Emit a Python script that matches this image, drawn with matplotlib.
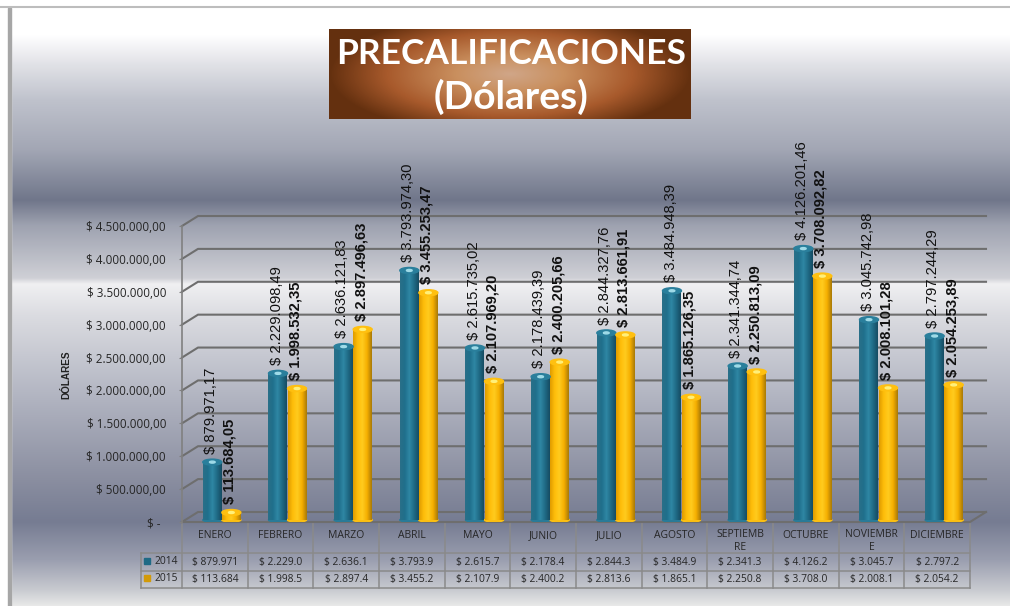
import numpy as np
import matplotlib
matplotlib.use('Agg')
import matplotlib.pyplot as plt
from matplotlib.colors import LinearSegmentedColormap, to_rgb
from matplotlib.patches import Ellipse, Rectangle
from matplotlib.ticker import FuncFormatter

meses = ['ENERO', 'FEBRERO', 'MARZO', 'ABRIL', 'MAYO', 'JUNIO', 'JULIO', 'AGOSTO',
         'SEPTIEMB\nRE', 'OCTUBRE', 'NOVIEMBR\nE', 'DICIEMBRE']
v2014 = [879971.17, 2229098.49, 2636121.83, 3793974.30, 2615735.02, 2178439.39,
         2844327.76, 3484948.39, 2341344.74, 4126201.46, 3045742.98, 2797244.29]
v2015 = [113684.05, 1998532.35, 2897496.63, 3455253.47, 2107969.20, 2400205.66,
         2813661.91, 1865126.35, 2250813.09, 3708092.82, 2008101.28, 2054253.89]
tabla2014 = ['$ 879.971', '$ 2.229.0', '$ 2.636.1', '$ 3.793.9', '$ 2.615.7', '$ 2.178.4',
             '$ 2.844.3', '$ 3.484.9', '$ 2.341.3', '$ 4.126.2', '$ 3.045.7', '$ 2.797.2']
tabla2015 = ['$ 113.684', '$ 1.998.5', '$ 2.897.4', '$ 3.455.2', '$ 2.107.9', '$ 2.400.2',
             '$ 2.813.6', '$ 1.865.1', '$ 2.250.8', '$ 3.708.0', '$ 2.008.1', '$ 2.054.2']
ticks = [0, 500000, 1000000, 1500000, 2000000, 2500000, 3000000, 3500000, 4000000, 4500000]

W, H = 1010, 606
fig = plt.figure(figsize=(W / 100, H / 100), dpi=100, facecolor='white')
font = 'Open Sans'
narrow = 'Liberation Sans'


def ramp(stops, n=606):
    pos = np.array([s[0] for s in stops], float)
    cols = np.array([to_rgb(s[1]) for s in stops])
    t = np.linspace(pos[0], pos[-1], n)
    return np.stack([np.interp(t, pos, cols[:, i]) for i in range(3)], axis=1)


def moneda(v):
    s = f'{v:,.2f}'.replace(',', '#').replace('.', ',').replace('#', '.')
    return '$ ' + s


# background, title and table live on a pixel axes behind the chart
bg = fig.add_axes([0, 0, 1, 1])
bg.axis('off')
stops = [(0, '#ffffff'), (35, '#ffffff'), (65, '#e0e1e6'), (100, '#bfc2cc'), (150, '#a2a6b4'),
         (200, '#70768a'), (225, '#9ea2b0'), (278, '#cfd0d6'), (284, '#f0f0f2'), (315, '#dbdce1'),
         (400, '#b0b3c0'), (480, '#8a8ea0'), (522, '#767c92'), (560, '#9a9eaf'), (590, '#c8cad0'),
         (606, '#e8e8e8')]
grad = ramp(stops)[:, None, :]
bg.imshow(grad, extent=(11, W, H, 0), aspect='auto', zorder=0)
bg.add_patch(Rectangle((0, 0), 11, H, color='white', zorder=1))
bg.add_patch(Rectangle((0, 0), W, 7, color='white', zorder=1))
bg.add_patch(Rectangle((8, 8), 3, H, color='#a6a6a6', zorder=1))
bg.plot([0, W], [7, 7], color='#bdbdbd', lw=1.5, zorder=1)

# title box with radial shading
yy, xx = np.mgrid[-1:1:90j, -1:1:362j]
r = np.clip(np.sqrt(xx ** 2 + (yy * 0.72) ** 2), 0, 1)
cafe = LinearSegmentedColormap.from_list('cafe', [(0, '#d0a688'), (0.3, '#c98f5e'), (0.68, '#a85a2c'), (1, '#64300f')])
bg.imshow(cafe(r), extent=(329, 691, 119, 29), aspect='auto', zorder=2)
bg.text(511, 54, 'PRECALIFICACIONES', color='white', fontsize=25.5, fontweight='bold', family='Lato',
        ha='center', va='center', zorder=3)
bg.text(511, 97, '(Dólares)', color='white', fontsize=28, fontweight='bold', family='Lato',
        ha='center', va='center', zorder=3)

# data table
left, right = 182, 970
cw = (right - left) / 12
lc = '#8a8a8a'
for y in [553, 571, 588]:
    bg.plot([141, right], [y, y], color=lc, lw=1.1, zorder=2)
bg.plot([182, right], [522, 522], color=lc, lw=1.1, zorder=2)
bg.plot([141, 141], [553, 588], color=lc, lw=1.1, zorder=2)
for i in range(13):
    bg.plot([left + i * cw] * 2, [522, 588], color=lc, lw=1.1, zorder=2)
for i, m in enumerate(meses):
    xc = left + (i + 0.5) * cw
    top = 536 if '\n' not in m else 541
    bg.text(xc, top, m, fontsize=7.5, family=font, color='#262626', ha='center', va='center', linespacing=1.2, zorder=3)
    bg.text(xc, 562, tabla2014[i], fontsize=7.4, family=font, color='#262626', ha='center', va='center', zorder=3)
    bg.text(xc, 579.5, tabla2015[i], fontsize=7.4, family=font, color='#262626', ha='center', va='center', zorder=3)
bg.add_patch(Rectangle((144, 558), 6, 6, color='#1f6a85', zorder=3))
bg.add_patch(Rectangle((144, 575), 6, 6, color='#d29a08', zorder=3))
bg.text(166, 561.5, '2014', fontsize=7.4, family=font, color='#262626', ha='center', va='center', zorder=3)
bg.text(166, 578.5, '2015', fontsize=7.4, family=font, color='#262626', ha='center', va='center', zorder=3)
bg.text(66, 375, 'DÓLARES', rotation=90, fontsize=7.2, fontweight='bold', family=narrow, color='#222222',
        ha='center', va='center', zorder=3)
bg.set_xlim(0, W)
bg.set_ylim(H, 0)

# chart axes = front plane of the 3d box
ax = fig.add_axes([left / W, (H - 522) / H, (right - left) / W, 296 / H])
ax.patch.set_alpha(0)
for s in ax.spines.values():
    s.set_visible(False)
px_y = 4500000 / 296
px_x = 12 / (right - left)
dx, dy = 16 * px_x, 10 * px_y

wall = '#6e6e6e'
for t in ticks:
    ax.plot([-0.5, -0.5 + dx, 11.5 + dx], [t, t + dy, t + dy], color=wall, lw=1.5, clip_on=False, zorder=1)
ax.plot([-0.5, 11.5, 11.5 + dx], [0, 0, dy], color=wall, lw=1.5, clip_on=False, zorder=1)
ax.plot([-0.5, -0.5], [0, 4500000], color='#808080', lw=1.2, clip_on=False, zorder=1)

ax.set_xticks([])
ax.set_yticks(ticks)
ax.yaxis.set_major_formatter(FuncFormatter(lambda v, p: '$ -  ' if v == 0 else moneda(v)))
ax.tick_params(axis='y', length=2, color='#808080', pad=9.5, labelsize=8.4, labelcolor='#262626')
for lb in ax.get_yticklabels():
    lb.set_family(font)

teal = LinearSegmentedColormap.from_list('teal', ['#2a6f88', '#1f6f8c', '#2f87a4', '#1f6a85', '#164c63'])
gold = LinearSegmentedColormap.from_list('gold', ['#e09c00', '#ffbe0a', '#ffcb1e', '#f5ae00', '#a87a08'])
bw = 19 * px_x
base = 2 * px_y
capw = 4 * px_y
xs = np.arange(12)


def cilindros(x, vals, cmap, tapa, brillo, bold):
    bars = ax.bar(x, vals, bw, bottom=base, color=cmap(0.5), zorder=3)
    g = np.linspace(0, 1, 64)[None, :]
    for b, v in zip(bars, vals):
        x0 = b.get_x()
        x1 = x0 + bw
        im = ax.imshow(g, cmap=cmap, extent=(x0, x1, base, base + v), aspect='auto', zorder=3.1)
        im.set_clip_path(b)
        xm = x0 + bw / 2
        ax.add_patch(Ellipse((xm, base), bw, capw, color=cmap(0.6), zorder=3))
        ax.add_patch(Ellipse((xm, base + v), bw, capw * 1.5, color=tapa, zorder=3.2))
        ax.add_patch(Ellipse((xm, base + v), bw * 0.3, capw * 0.5, color=brillo, zorder=3.3))
        ax.annotate(moneda(v), (xm, base + v), xytext=(-1, 6), textcoords='offset points', rotation=90,
                    ha='center', va='bottom', fontsize=10.6, family=narrow, color='#111111',
                    fontweight='bold' if bold else 'normal', zorder=5, annotation_clip=False)


cilindros(xs + 7 / cw - 0.145, np.array(v2014), teal, '#2a7f9c', '#9fdbe8', False)
cilindros(xs + 7 / cw + 0.145, np.array(v2015), gold, '#ffc010', '#fff07a', True)
ax.set_xlim(-0.5, 11.5)
ax.set_ylim(0, 4500000)

fig.savefig('out.png', dpi=100)
